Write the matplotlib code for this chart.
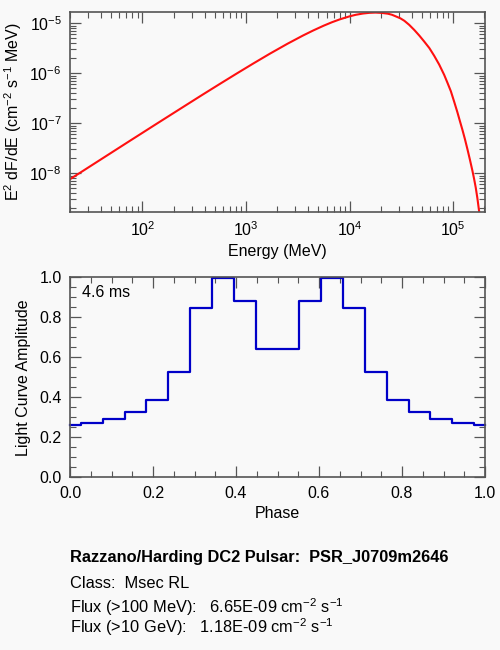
import numpy as np
import matplotlib
matplotlib.use("Agg")
import matplotlib.pyplot as plt
from matplotlib.ticker import LogLocator, MultipleLocator, NullFormatter, FixedLocator

# spectrum, as log10(E / MeV) and log10(E^2 dF/dE)
log_energy = [1.301, 1.4, 1.5, 1.625, 1.75, 1.875, 2.0, 2.133, 2.267, 2.42,
              2.588, 2.75, 2.909, 3.07, 3.23, 3.4, 3.551, 3.65, 3.75, 3.83,
              3.905, 4.0, 4.06, 4.128, 4.19, 4.25, 4.31, 4.37, 4.41, 4.45,
              4.49, 4.529, 4.575, 4.625, 4.673, 4.721, 4.77, 4.817, 4.865,
              4.913, 4.945, 4.978, 5.01, 5.041, 5.065, 5.09, 5.114, 5.138,
              5.162, 5.186, 5.202, 5.218, 5.234, 5.25, 5.26]
log_sed = [-8.119, -7.988, -7.855, -7.689, -7.523, -7.357, -7.192, -7.016,
           -6.84, -6.639, -6.419, -6.21, -6.007, -5.805, -5.609, -5.41, -5.244,
           -5.143, -5.048, -4.979, -4.922, -4.861, -4.83, -4.805, -4.791,
           -4.786, -4.792, -4.808, -4.83, -4.865, -4.90, -4.95, -5.03, -5.134,
           -5.245, -5.366, -5.495, -5.65, -5.825, -6.03, -6.19, -6.36, -6.57,
           -6.78, -6.955, -7.135, -7.32, -7.52, -7.73, -7.95, -8.11, -8.286,
           -8.5, -8.75, -8.9]

# light curve, 19 bins
phase = [i / 19 for i in range(20)]
amplitude = [0.26, 0.27, 0.29, 0.327, 0.388, 0.525, 0.848, 0.997, 0.882, 0.643,
             0.643, 0.882, 0.997, 0.848, 0.525, 0.388, 0.327, 0.29, 0.27, 0.26]

pulsar = "PSR_J0709m2646"
psr_class = "Msec RL"
period_label = "4.6 ms"
flux100 = "6.65E-09"
flux10g = "1.18E-09"

bg = "#f9f9f9"
frame = "#555555"
plt.rcParams["font.family"] = ["Liberation Sans", "DejaVu Sans"]
plt.rcParams["mathtext.fontset"] = "custom"
plt.rcParams["mathtext.rm"] = "Liberation Sans"
plt.rcParams["mathtext.it"] = "Liberation Sans"

fig = plt.figure(figsize=(5, 6.5), dpi=100, facecolor=bg)


def style_axes(ax):
    ax.set_facecolor(bg)
    for s in ax.spines.values():
        s.set_color(frame)
        s.set_linewidth(1.2)
    ax.tick_params(which="both", direction="in", top=True, right=True,
                   color=frame, labelsize=11.5, pad=6)
    ax.tick_params(which="major", length=8, width=0.9)
    ax.tick_params(which="minor", length=4, width=0.8)


ax1 = fig.add_axes([0.14, 0.6743, 0.83, 0.3065])
style_axes(ax1)
ax1.plot(10 ** np.array(log_energy), 10 ** np.array(log_sed),
         color="#ff1010", lw=1.5)
ax1.set_xscale("log")
ax1.set_yscale("log")
ax1.set_xlim(20, 2.03e5)
ax1.set_ylim(1.7e-9, 1.645e-5)
ax1.xaxis.set_major_locator(FixedLocator([1e2, 1e3, 1e4, 1e5]))
ax1.xaxis.set_minor_locator(LogLocator(base=10, subs=np.arange(2, 10), numticks=20))
ax1.xaxis.set_minor_formatter(NullFormatter())
ax1.yaxis.set_major_locator(FixedLocator([1e-8, 1e-7, 1e-6, 1e-5]))
ax1.yaxis.set_minor_locator(LogLocator(base=10, subs=np.arange(2, 10), numticks=20))
ax1.yaxis.set_minor_formatter(NullFormatter())
ax1.set_xlabel("Energy (MeV)", fontsize=11.5, labelpad=4)
ax1.set_ylabel(r"E$^2$ dF/dE (cm$^{-2}$ s$^{-1}$ MeV)", fontsize=11.5, labelpad=4)

ax2 = fig.add_axes([0.14, 0.2657, 0.83, 0.3077])
style_axes(ax2)
ax2.plot(phase, amplitude, drawstyle="steps-mid", color="#0000c8", lw=1.6,
         clip_on=False)
ax2.set_xlim(0, 1)
ax2.set_ylim(0, 1)
ax2.xaxis.set_major_locator(MultipleLocator(0.2))
ax2.xaxis.set_minor_locator(MultipleLocator(0.05))
ax2.yaxis.set_major_locator(MultipleLocator(0.2))
ax2.yaxis.set_minor_locator(MultipleLocator(0.05))
ax2.xaxis.set_major_formatter(plt.FuncFormatter(lambda v, p: f"{v:.1f}"))
ax2.yaxis.set_major_formatter(plt.FuncFormatter(lambda v, p: f"{v:.1f}"))
ax2.set_xlabel("Phase", fontsize=11.5, labelpad=4)
ax2.set_ylabel("Light Curve Amplitude", fontsize=11.5, labelpad=6)
ax2.text(0.03, 0.925, period_label, transform=ax2.transAxes, fontsize=11.5,
         va="center", ha="left")

fs = 11.8
lines = [
    (562.0, f"Razzano/Harding DC2 Pulsar:  {pulsar}", "bold"),
    (587.7, f"Class:  {psr_class}", "normal"),
    (612.7, f"Flux (>100 MeV):   {flux100} cm$^{{-2}}$ s$^{{-1}}$", "normal"),
    (633.3, f"Flux (>10 GeV):   {flux10g} cm$^{{-2}}$ s$^{{-1}}$", "normal"),
]
for ypix, txt, weight in lines:
    fig.text(0.14, 1 - ypix / 650, txt, fontsize=fs, fontweight=weight,
             va="baseline", ha="left")

fig.savefig("out.png", dpi=100, facecolor=bg)
